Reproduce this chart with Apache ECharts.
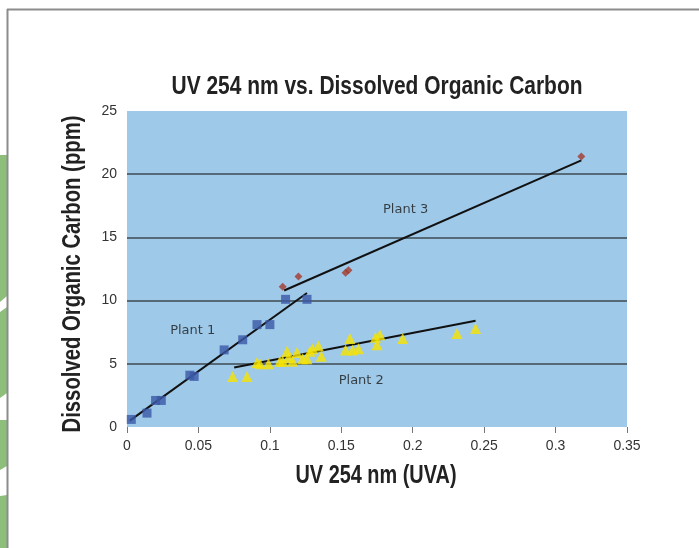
<!DOCTYPE html>
<html>
<head>
<meta charset="utf-8">
<script src="https://cdn.jsdelivr.net/npm/echarts@6/dist/echarts.min.js"></script>
<style>
  html, body {margin: 0; padding: 0; background: #fff;}
  #chart {width: 699px; height: 548px;}
</style>
</head>
<body>
<div id="chart"></div>
<script>
// values: [UVA, DOC ppm]
const plant1 = [
  [0.003, 0.6], [0.014, 1.1], [0.020, 2.1], [0.024, 2.1], [0.044, 4.1], [0.047, 4.0],
  [0.068, 6.1], [0.081, 6.9], [0.091, 8.1], [0.100, 8.1], [0.111, 10.1], [0.126, 10.1]
]
const plant2 = [
  [0.074, 4.0], [0.084, 4.0], [0.091, 5.1], [0.093, 5.0], [0.099, 5.0], [0.107, 5.2],
  [0.109, 5.2], [0.112, 6.0], [0.113, 5.5], [0.116, 5.2], [0.119, 5.9], [0.123, 5.4],
  [0.126, 5.4], [0.128, 6.0], [0.130, 6.2], [0.134, 6.4], [0.136, 5.6], [0.153, 6.1],
  [0.156, 7.0], [0.158, 6.1], [0.162, 6.2], [0.174, 7.1], [0.175, 6.5], [0.177, 7.3],
  [0.193, 7.0], [0.231, 7.4], [0.244, 7.8]
]
const plant3 = [
  [0.109, 11.1], [0.120, 11.9], [0.153, 12.2], [0.155, 12.4], [0.318, 21.4]
]
// trend line end points
const trend1 = [[0.002, 0.5], [0.126, 10.6]]
const trend2 = [[0.075, 4.7], [0.244, 8.4]]
const trend3 = [[0.110, 10.8], [0.318, 21.1]]

const plantNames = ['Plant 1', 'Plant 2', 'Plant 3']
const plantLabelPos = [[0.046, 7.6], [0.164, 3.7], [0.195, 17.2]]

const xTicks = ['0', '0.05', '0.1', '0.15', '0.2', '0.25', '0.3', '0.35']

const titleText = 'UV 254 nm vs. Dissolved Organic Carbon'
const xName = 'UV 254 nm (UVA)'
const yName = 'Dissolved Organic Carbon (ppm)'

const chart = echarts.init(document.getElementById('chart'))

// no condensed bold face installed, so squeeze the bold one to the width seen in the picture
const boldFont = 'bold 26px "Liberation Sans", Arial, sans-serif'
const measure = document.createElement('canvas').getContext('2d')
measure.font = boldFont
const squeeze = (text, width) => width / measure.measureText(text).width

const boldText = (text, x, y, width, rotation) => ({
  type: 'text', x, y, rotation: rotation || 0,
  scaleX: squeeze(text, width),
  style: {text, font: boldFont, fill: '#222', align: 'center', verticalAlign: 'middle'},
  z: 10
})

const green = '#8dbf7a'
const trendLine = data => ({
  type: 'line', data, symbol: 'none', silent: true,
  lineStyle: {color: '#111', width: 2}, z: 3
})

chart.setOption({
  animation: false,
  backgroundColor: '#fff',
  graphic: [
    // left page decoration
    {type: 'polygon', shape: {points: [[0, 155], [7, 155], [7, 296], [0, 302]]}, style: {fill: green}},
    {type: 'polygon', shape: {points: [[0, 312], [7, 307], [7, 393], [0, 398]]}, style: {fill: green}},
    {type: 'polygon', shape: {points: [[0, 420], [7, 420], [7, 466], [0, 470]]}, style: {fill: green}},
    {type: 'polygon', shape: {points: [[0, 496], [7, 495], [7, 548], [0, 548]]}, style: {fill: green}},
    {type: 'line', shape: {x1: 7.5, y1: 9, x2: 7.5, y2: 548}, style: {stroke: '#8c8c8c', lineWidth: 2}},
    {type: 'line', shape: {x1: 7, y1: 9.5, x2: 699, y2: 9.5}, style: {stroke: '#8c8c8c', lineWidth: 2}},
    boldText(titleText, 377, 87, 411),
    boldText(xName, 376, 476, 161),
    boldText(yName, 73, 274, 317, Math.PI / 2)
  ],
  grid: {
    left: 127, top: 111, width: 500, height: 316,
    show: true, backgroundColor: '#9ec9e9', borderWidth: 0
  },
  xAxis: {
    type: 'value', min: 0, max: 0.35, interval: 0.05,
    axisLine: {show: false},
    axisTick: {show: true, length: 6, lineStyle: {color: '#777'}},
    splitLine: {show: false},
    axisLabel: {
      margin: 12, fontFamily: 'Liberation Sans', fontSize: 14, color: '#333',
      formatter: (v, i) => xTicks[i]
    }
  },
  yAxis: {
    type: 'value', min: 0, max: 25, interval: 5,
    axisLine: {show: false},
    axisTick: {show: false},
    axisLabel: {margin: 10, fontFamily: 'Liberation Sans', fontSize: 14, color: '#333'},
    splitLine: {
      show: true,
      lineStyle: {color: ['transparent', '#3d4850', '#3d4850', '#3d4850', '#3d4850', 'transparent'], width: 1.5}
    }
  },
  series: [
    {type: 'scatter', name: 'Plant 1', data: plant1, symbol: 'rect', symbolSize: 9,
      itemStyle: {color: '#3b59a6'}, z: 4},
    {type: 'scatter', name: 'Plant 2', data: plant2, symbol: 'triangle', symbolSize: 11,
      itemStyle: {color: '#f7e400'}, z: 4},
    {type: 'scatter', name: 'Plant 3', data: plant3, symbol: 'diamond', symbolSize: 8,
      itemStyle: {color: '#a53a2c'}, z: 4},
    trendLine(trend1),
    trendLine(trend2),
    trendLine(trend3),
    {
      type: 'scatter', silent: true, symbolSize: 0,
      data: plantLabelPos.map((p, i) => ({value: p, name: plantNames[i]})),
      label: {
        show: true, position: 'inside', formatter: '{b}',
        fontFamily: 'DejaVu Sans', fontSize: 13, color: '#1a1a1a'
      },
      z: 5
    }
  ]
})
</script>
</body>
</html>
